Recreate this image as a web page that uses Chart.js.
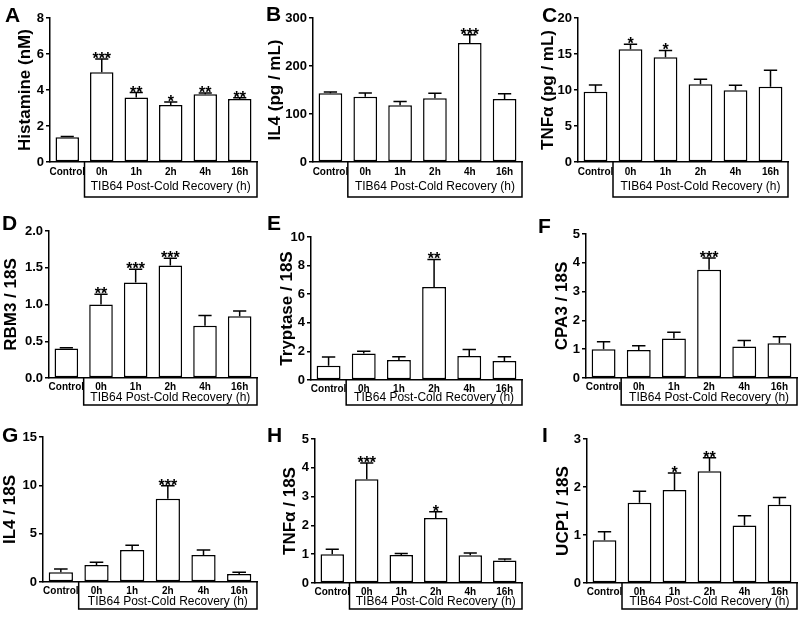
<!DOCTYPE html>
<html>
<head>
<meta charset="utf-8">
<script src="https://cdn.jsdelivr.net/npm/chart.js@4.4.1/dist/chart.umd.min.js"></script>
<style>
  body { margin: 0; background: #fff; }
  #fig { position: relative; width: 799px; height: 620px; overflow: hidden; }
  #fig canvas { position: absolute; }
</style>
</head>
<body>
<div id="fig"></div>
<script>
const GROUPS = ['Control', '0h', '1h', '2h', '4h', '16h'];
const BOX_LABEL = 'TIB64 Post-Cold Recovery (h)';

// A - Histamine
const histamineMean = [1.37, 4.98, 3.59, 3.17, 3.76, 3.5];
const histamineSem = [0.04, 0.74, 0.27, 0.17, 0.08, 0.07];
const histamineSig = ['', '***', '**', '*', '**', '**'];
// B - IL4 protein
const il4ProtMean = [143, 136, 118, 133, 248, 131];
const il4ProtSem = [3, 8, 8, 10, 17, 11];
const il4ProtSig = ['', '', '', '', '***', ''];
// C - TNFa protein
const tnfProtMean = [9.75, 15.65, 14.55, 10.8, 9.95, 10.45];
const tnfProtSem = [0.95, 0.7, 0.95, 0.7, 0.7, 2.3];
const tnfProtSig = ['', '*', '*', '', '', ''];
// D - RBM3 mRNA
const rbm3Mean = [0.40, 1.00, 1.30, 1.53, 0.71, 0.84];
const rbm3Sem = [0.01, 0.14, 0.18, 0.10, 0.14, 0.07];
const rbm3Sig = ['', '**', '***', '***', '', ''];
// E - Tryptase mRNA
const tryptaseMean = [1.0, 1.86, 1.4, 6.5, 1.68, 1.33];
const tryptaseSem = [0.6, 0.15, 0.22, 1.93, 0.46, 0.3];
const tryptaseSig = ['', '', '', '**', '', ''];
// F - CPA3 mRNA
const cpa3Mean = [1.0, 0.97, 1.37, 3.76, 1.09, 1.21];
const cpa3Sem = [0.26, 0.15, 0.22, 0.41, 0.21, 0.22];
const cpa3Sig = ['', '', '', '***', '', ''];
// G - IL4 mRNA
const il4RnaMean = [1.0, 1.77, 3.3, 8.6, 2.8, 0.84];
const il4RnaSem = [0.35, 0.28, 0.5, 1.35, 0.5, 0.17];
const il4RnaSig = ['', '', '', '***', '', ''];
// H - TNFa mRNA
const tnfRnaMean = [1.0, 3.6, 0.97, 2.26, 0.96, 0.78];
const tnfRnaSem = [0.17, 0.57, 0.05, 0.21, 0.08, 0.05];
const tnfRnaSig = ['', '***', '', '*', '', ''];
// I - UCP1 mRNA
const ucp1Mean = [0.89, 1.67, 1.94, 2.33, 1.2, 1.63];
const ucp1Sem = [0.18, 0.24, 0.35, 0.28, 0.2, 0.15];
const ucp1Sig = ['', '', '*', '**', '', ''];

const FONT = "'Liberation Sans', Arial, Helvetica, sans-serif";
Chart.defaults.font.family = FONT;
Chart.defaults.color = '#000';

// panel placement on the page (px)
const panels = [
  { letter: 'A', title: 'Histamine (nM)', mean: histamineMean, sem: histamineSem, sig: histamineSig, max: 8, step: 2, dec: 0,
    left: 0, top: 0, w: 265, h: 205, axisX: 50, plotTop: 18, plotBottom: 162, plotRight: 257, boxBottom: 197, textUp: 10, lx: 5, ly: 22, tx: 25 },
  { letter: 'B', title: 'IL4 (pg / mL)', mean: il4ProtMean, sem: il4ProtSem, sig: il4ProtSig, max: 300, step: 100, dec: 0,
    left: 265, top: 0, w: 265, h: 205, axisX: 313, plotTop: 18, plotBottom: 162, plotRight: 522, boxBottom: 197, textUp: 10, lx: 266, ly: 21, tx: 275 },
  { letter: 'C', title: 'TNF\u03b1 (pg / mL)', mean: tnfProtMean, sem: tnfProtSem, sig: tnfProtSig, max: 20, step: 5, dec: 0,
    left: 530, top: 0, w: 269, h: 205, axisX: 578, plotTop: 18, plotBottom: 162, plotRight: 788, boxBottom: 197, textUp: 10, lx: 542, ly: 22, tx: 548 },
  { letter: 'D', title: 'RBM3 / 18S', mean: rbm3Mean, sem: rbm3Sem, sig: rbm3Sig, max: 2, step: 0.5, dec: 1,
    left: 0, top: 205, w: 265, h: 205, axisX: 49, plotTop: 231, plotBottom: 378, plotRight: 257, boxBottom: 405, textUp: 7, lx: 2, ly: 230, tx: 11 },
  { letter: 'E', title: 'Tryptase / 18S', mean: tryptaseMean, sem: tryptaseSem, sig: tryptaseSig, max: 10, step: 2, dec: 0,
    left: 265, top: 205, w: 265, h: 205, axisX: 311, plotTop: 237, plotBottom: 380, plotRight: 522, boxBottom: 405, textUp: 7, lx: 267, ly: 230, tx: 287 },
  { letter: 'F', title: 'CPA3 / 18S', mean: cpa3Mean, sem: cpa3Sem, sig: cpa3Sig, max: 5, step: 1, dec: 0,
    left: 530, top: 205, w: 269, h: 205, axisX: 586, plotTop: 234, plotBottom: 378, plotRight: 797, boxBottom: 405, textUp: 7, lx: 538, ly: 233, tx: 562 },
  { letter: 'G', title: 'IL4 / 18S', mean: il4RnaMean, sem: il4RnaSem, sig: il4RnaSig, max: 15, step: 5, dec: 0,
    left: 0, top: 410, w: 265, h: 210, axisX: 43, plotTop: 437, plotBottom: 582, plotRight: 257, boxBottom: 609, textUp: 7, lx: 2, ly: 442, tx: 9 },
  { letter: 'H', title: 'TNF\u03b1 / 18S', mean: tnfRnaMean, sem: tnfRnaSem, sig: tnfRnaSig, max: 5, step: 1, dec: 0,
    left: 265, top: 410, w: 265, h: 210, axisX: 315, plotTop: 439, plotBottom: 583, plotRight: 522, boxBottom: 609, textUp: 7, lx: 267, ly: 442, tx: 290 },
  { letter: 'I', title: 'UCP1 / 18S', mean: ucp1Mean, sem: ucp1Sem, sig: ucp1Sig, max: 3, step: 1, dec: 0,
    left: 530, top: 410, w: 269, h: 210, axisX: 587, plotTop: 439, plotBottom: 583, plotRight: 797, boxBottom: 609, textUp: 7, lx: 542, ly: 442, tx: 563 }
];

// error bars (upper SEM only), significance stars, bracket box and panel letter
const panelExtras = {
  id: 'panelExtras',
  afterDatasetsDraw(chart, args, opts) {
    const { ctx } = chart;
    const y = chart.scales.y;
    const meta = chart.getDatasetMeta(0);
    ctx.save();
    ctx.strokeStyle = '#000';
    ctx.fillStyle = '#000';
    ctx.lineWidth = 1.5;
    meta.data.forEach((bar, i) => {
      const v = chart.data.datasets[0].data[i];
      const top = y.getPixelForValue(v + opts.sem[i]);
      const cap = bar.width * 0.28;
      ctx.beginPath();
      ctx.moveTo(bar.x, bar.y);
      ctx.lineTo(bar.x, top);
      ctx.moveTo(bar.x - cap, top);
      ctx.lineTo(bar.x + cap, top);
      ctx.stroke();
      if (opts.sig[i]) {
        ctx.font = 'bold 16px ' + FONT;
        ctx.textAlign = 'center';
        ctx.textBaseline = 'alphabetic';
        ctx.fillText(opts.sig[i], bar.x, top + 5);
      }
    });
    ctx.restore();
  },
  afterDraw(chart, args, opts) {
    const { ctx, chartArea } = chart;
    const x = chart.scales.x;
    const x0 = (x.getPixelForValue(0) + x.getPixelForValue(1)) / 2;
    const x1 = chartArea.right;
    const y0 = chartArea.bottom;
    const y1 = opts.boxBottom;
    ctx.save();
    ctx.strokeStyle = '#000';
    ctx.lineWidth = 1.5;
    ctx.beginPath();
    ctx.moveTo(x0, y0);
    ctx.lineTo(x0, y1);
    ctx.lineTo(x1, y1);
    ctx.lineTo(x1, y0);
    ctx.stroke();
    ctx.fillStyle = '#000';
    ctx.font = '12px ' + FONT;
    ctx.textAlign = 'center';
    ctx.textBaseline = 'middle';
    ctx.fillText(BOX_LABEL, (x0 + x1) / 2, y1 - opts.textUp);
    ctx.font = 'bold 21px ' + FONT;
    ctx.textAlign = 'left';
    ctx.textBaseline = 'alphabetic';
    ctx.fillText(opts.letter, opts.lx, opts.ly);
    ctx.restore();
  }
};

const fig = document.getElementById('fig');

panels.forEach(p => {
  const canvas = document.createElement('canvas');
  canvas.width = p.w;
  canvas.height = p.h;
  canvas.style.left = p.left + 'px';
  canvas.style.top = p.top + 'px';
  fig.appendChild(canvas);

  const yWidth = p.axisX - p.left;
  const xHeight = p.top + p.h - p.plotBottom;
  const titlePad = Math.max(0, p.tx - p.left - 10.2);
  const labelPad = p.textUp < 10 ? 3 : 4;

  new Chart(canvas, {
    type: 'bar',
    data: {
      labels: GROUPS,
      datasets: [{
        data: p.mean,
        backgroundColor: '#fff',
        borderColor: '#000',
        borderWidth: 1.5,
        borderSkipped: false,
        barPercentage: 0.68,
        categoryPercentage: 1
      }]
    },
    options: {
      responsive: false,
      animation: false,
      events: [],
      layout: { padding: { left: 0, top: p.plotTop - p.top, right: p.left + p.w - p.plotRight, bottom: 0 } },
      plugins: {
        legend: { display: false },
        tooltip: { enabled: false },
        panelExtras: {
          sem: p.sem, sig: p.sig, letter: p.letter, textUp: p.textUp,
          lx: p.lx - p.left, ly: p.ly - p.top, boxBottom: p.boxBottom - p.top
        }
      },
      scales: {
        x: {
          grid: { display: false, drawTicks: false },
          border: { color: '#000', width: 1.5 },
          ticks: { color: '#000', font: { size: 10, weight: 'bold' }, padding: labelPad, maxRotation: 0, autoSkip: false },
          afterFit: s => { s.height = xHeight; }
        },
        y: {
          min: 0,
          max: p.max,
          grid: { drawOnChartArea: false, color: '#000', lineWidth: 1.5, tickLength: 4 },
          border: { color: '#000', width: 1.5 },
          ticks: {
            stepSize: p.step,
            color: '#000',
            padding: 2,
            font: { size: 13, weight: 'bold' },
            callback: v => v.toFixed(p.dec)
          },
          title: {
            display: true,
            text: p.title,
            color: '#000',
            font: { size: 17, weight: 'bold' },
            padding: { top: titlePad, bottom: 0 }
          },
          afterFit: s => { s.width = yWidth; }
        }
      }
    },
    plugins: [panelExtras]
  });
});
</script>
</body>
</html>
